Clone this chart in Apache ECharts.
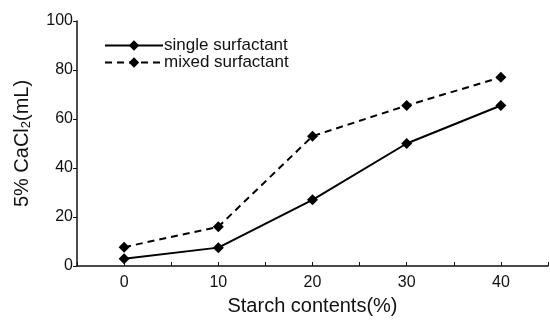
<!DOCTYPE html>
<html>
<head>
<meta charset="utf-8">
<script src="https://cdn.jsdelivr.net/npm/echarts@6/dist/echarts.min.js"></script>
<style>
  html, body { margin: 0; padding: 0; background: #fff; }
  #chart { width: 550px; height: 322px; }
</style>
</head>
<body>
<div id="chart"></div>
<script>
const starch = [0, 10, 20, 30, 40]
const single = [3, 7.5, 27, 50, 65.5]
const mixed = [7.7, 16, 53, 65.5, 77]
const yTicks = [0, 20, 40, 60, 80, 100]

const font = 'Liberation Sans, Arial, sans-serif'
const chart = echarts.init(document.getElementById('chart'))

chart.setOption({
    animation: false,
    backgroundColor: '#fff',
    grid: { left: 77, right: 2, top: 21, bottom: 56, outerBoundsMode: 'none' },
    legend: {
        left: 99,
        top: 32,
        orient: 'vertical',
        itemWidth: 58,
        itemHeight: 13,
        itemGap: 0,
        textStyle: { fontFamily: font, fontSize: 17, color: '#111', padding: [0, 0, 0, -4] },
        data: ['single surfactant', 'mixed surfactant']
    },
    xAxis: {
        type: 'value',
        min: -5,
        max: 45,
        interval: 5,
        name: 'Starch contents(%)',
        nameLocation: 'middle',
        nameGap: 30,
        nameTextStyle: { fontFamily: font, fontSize: 20, color: '#111' },
        axisLine: { lineStyle: { color: '#111', width: 1.5 } },
        axisTick: { inside: true, length: 4, lineStyle: { color: '#111' },
            interval: 0 },
        axisLabel: {
            fontFamily: font, fontSize: 16, color: '#111', margin: 9,
            formatter: v => starch.includes(v) ? String(v) : ''
        },
        splitLine: { show: false }
    },
    yAxis: {
        type: 'value',
        min: 0,
        max: 100,
        interval: 20,
        name: '{a|5% CaCl}{b|2}{a|(mL)}',
        nameLocation: 'middle',
        nameGap: 44,
        nameTextStyle: {
            rich: {
                a: { fontFamily: font, fontSize: 20, color: '#111' },
                b: { fontFamily: font, fontSize: 13, color: '#111', verticalAlign: 'bottom', padding: [8, 0, 0, 0] }
            }
        },
        axisLine: { show: true, onZero: false, lineStyle: { color: '#111', width: 1.5 } },
        axisTick: { show: true, length: 4, lineStyle: { color: '#111' } },
        axisLabel: {
            fontFamily: font, fontSize: 16, color: '#111', margin: 4,
            formatter: v => yTicks.includes(v) ? String(v) : ''
        },
        splitLine: { show: false }
    },
    series: [
        {
            name: 'single surfactant',
            type: 'line',
            data: starch.map((x, i) => [x, single[i]]),
            symbol: 'diamond',
            symbolSize: 11,
            itemStyle: { color: '#000' },
            lineStyle: { color: '#000', width: 2 }
        },
        {
            name: 'mixed surfactant',
            type: 'line',
            data: starch.map((x, i) => [x, mixed[i]]),
            symbol: 'diamond',
            symbolSize: 11,
            itemStyle: { color: '#000' },
            lineStyle: { color: '#000', width: 2, type: [7, 5] }
        }
    ]
})
</script>
</body>
</html>
